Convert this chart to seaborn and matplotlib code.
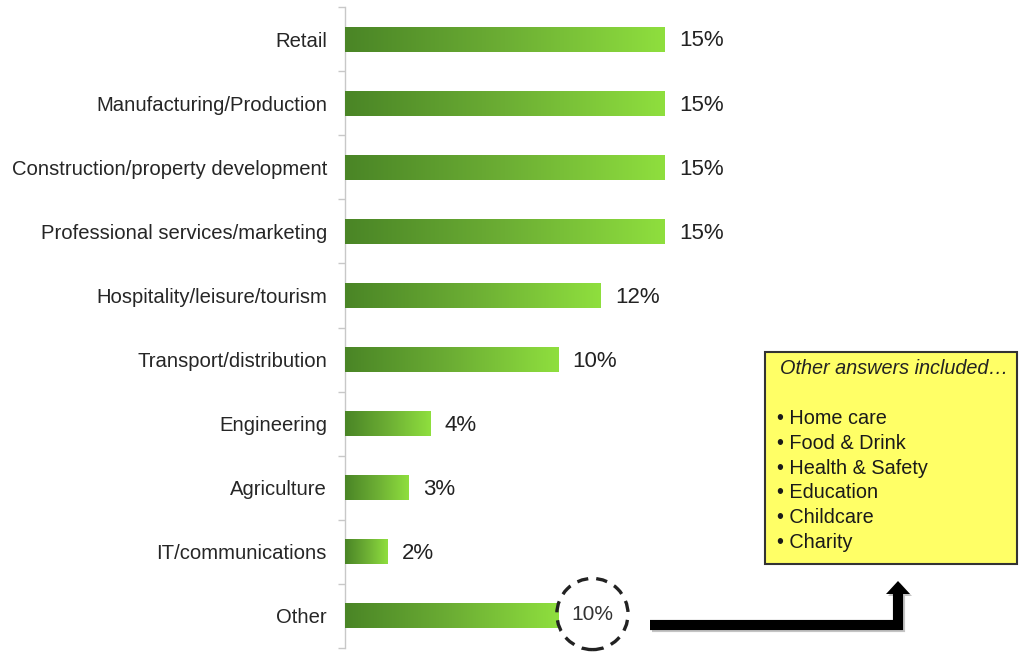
import numpy as np
import pandas as pd
import matplotlib
matplotlib.use("Agg")
import matplotlib.pyplot as plt
import seaborn as sns
from matplotlib.colors import LinearSegmentedColormap
from matplotlib.patches import Rectangle, Polygon
from matplotlib.lines import Line2D

sectors = [
    "Retail",
    "Manufacturing/Production",
    "Construction/property development",
    "Professional services/marketing",
    "Hospitality/leisure/tourism",
    "Transport/distribution",
    "Engineering",
    "Agriculture",
    "IT/communications",
    "Other",
]
shares = [15, 15, 15, 15, 12, 10, 4, 3, 2, 10]
other_answers = ["Home care", "Food & Drink", "Health & Safety",
                 "Education", "Childcare", "Charity"]

df = pd.DataFrame({"sector": sectors, "share": shares})

sns.set_theme(style="white")
plt.rcParams["font.family"] = ["Liberation Sans", "DejaVu Sans"]

W, H = 1021, 658
fig = plt.figure(figsize=(W / 100, H / 100), dpi=100)
ax = fig.add_axes([345 / W, 1 - 648 / H, (W - 345) / W, 641 / H])


def px(x, y):
    """Pixel position (from top-left) to figure fraction."""
    return x / W, 1 - y / H


sns.barplot(data=df, y="sector", x="share", orient="h", width=0.39,
            color="#6fb330", ax=ax, zorder=2)

ax.set_xlim(0, (W - 345) / 21.33)
ax.set_ylim(len(sectors) - 0.5, -0.5)

# horizontal green gradient inside each bar
cmap = LinearSegmentedColormap.from_list("bar", ["#4a8526", "#6cae34", "#8fdf3e"])
grad = np.linspace(0, 1, 256).reshape(1, -1)
for patch in ax.patches:
    x0, y0 = patch.get_x(), patch.get_y()
    w, h = patch.get_width(), patch.get_height()
    im = ax.imshow(grad, cmap=cmap, aspect="auto", extent=[x0, x0 + w, y0 + h, y0],
                   zorder=3, interpolation="bicubic")
    im.set_clip_path(patch)
    patch.set_edgecolor("none")

# value labels
for i, v in enumerate(shares):
    if sectors[i] == "Other":
        ax.text(v + 1.6, i - 0.03, f"{v}%", va="center", ha="center", fontsize=15,
                color="#333333", zorder=5,
                bbox=dict(boxstyle="circle,pad=0.7", fc="none", ec="#222222",
                          lw=2.4, ls=(0, (3.4, 2.4))))
    else:
        ax.text(v + 0.65, i + 0.03, f"{v}%", va="center", ha="left",
                fontsize=16, color="#222222", zorder=5)

# axis styling
for s in ["top", "right", "bottom"]:
    ax.spines[s].set_visible(False)
ax.spines["left"].set_color("#c8c8c8")
ax.spines["left"].set_linewidth(1.0)
ax.set_xticks([])
ax.set_xlabel("")
ax.set_ylabel("")
ax.set_yticks(range(len(sectors)))
ax.set_yticklabels(sectors, fontsize=14.6, color="#262626")
ax.set_yticks(np.arange(-0.5, len(sectors), 1), minor=True)
ax.tick_params(axis="y", which="major", length=0, pad=13)
ax.tick_params(axis="y", which="minor", length=5, width=1.0, color="#c8c8c8", left=True)

# note box with the other answers
bx0, by0, bx1, by1 = 765, 352, 1017, 564
box = Rectangle(px(bx0, by1), (bx1 - bx0) / W, (by1 - by0) / H,
                transform=fig.transFigure, fc="#ffff66", ec="#333333", lw=1.5, zorder=1)
fig.add_artist(box)
fig.text(*px(780, 368), "Other answers included\u2026", style="italic",
         fontsize=14.3, color="#222222", va="center", ha="left")
for k, item in enumerate(other_answers):
    fig.text(*px(777, 419 + 24.6 * k), "\u2022 " + item,
             fontsize=14.3, color="#1a1a1a", va="center", ha="left")

# elbow arrow from the "Other" bar to the note box
shaft = [(650, 625), (898, 625), (898, 593)]
head = [(886, 594), (910, 594), (898, 581)]
for dx, dy, col, z in [(2, 2, "#c4c4c4", 1), (0, 0, "black", 2)]:
    xs, ys = zip(*[px(x + dx, y + dy) for x, y in shaft])
    fig.add_artist(Line2D(xs, ys, transform=fig.transFigure, lw=7.3, color=col,
                          solid_joinstyle="miter", solid_capstyle="butt", zorder=z))
    fig.add_artist(Polygon([px(x + dx, y + dy) for x, y in head], closed=True,
                           transform=fig.transFigure, fc=col, ec="none", zorder=z))

fig.savefig("out.png", dpi=100)
